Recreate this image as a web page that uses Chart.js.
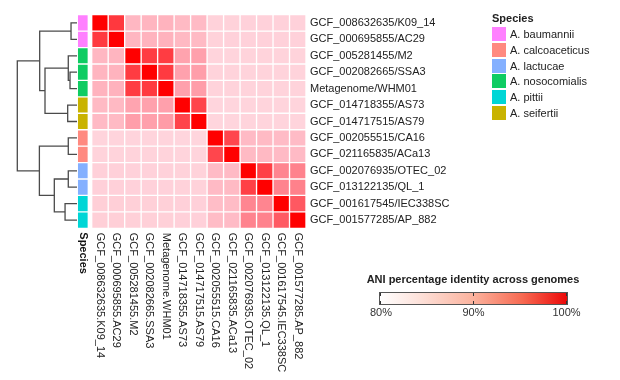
<!DOCTYPE html>
<html>
<head>
<meta charset="utf-8">
<script src="https://cdn.jsdelivr.net/npm/chart.js@4.4.1/dist/chart.umd.min.js"></script>
<style>
  html, body { margin: 0; padding: 0; background: #ffffff; }
  #wrap { position: relative; width: 620px; height: 380px; overflow: hidden;
          font-family: "Liberation Sans", Arial, sans-serif; color: #222; }
  #wrap canvas { position: absolute; left: 0; top: 0; }
  .lgTitle { position: absolute; left: 492px; top: 11px; font-weight: bold; font-size: 11px; line-height: 14px; }
  .lgSw { position: absolute; left: 492px; width: 14px; height: 14px; }
  .lgTx { position: absolute; left: 510px; font-size: 11px; line-height: 14px; color: #222; white-space: nowrap; }
  .cbTitle { position: absolute; left: 340px; width: 266px; text-align: center; top: 272px; font-weight: bold; font-size: 11px; line-height: 14px; }
  .cbBar { position: absolute; left: 379px; top: 292px; width: 187px; height: 11px; border: 1px solid #555;
           background: linear-gradient(to right, #ffffff 0%, #fde3dc 20%, #fbb29d 50%, #f76a52 76%, #ec0808 100%); }
  .cbTick { position: absolute; width: 1px; height: 3px; background: #333; }
  .cbLab { position: absolute; top: 305px; width: 40px; text-align: center; font-size: 11px; line-height: 14px; color: #333; }
</style>
</head>
<body>
<div id="wrap">
  <canvas id="dend" width="620" height="380" style="width:620px;height:380px"></canvas>
  <canvas id="strip" width="620" height="380" style="width:620px;height:380px"></canvas>
  <canvas id="heat" width="620" height="380" style="width:620px;height:380px"></canvas>
  <div id="legend"></div>
  <div id="cbar"></div>
</div>
<script>
// ---------------- DATA ----------------
const rowLabels = [
  "GCF_008632635/K09_14", "GCF_000695855/AC29", "GCF_005281455/M2", "GCF_002082665/SSA3",
  "Metagenome/WHM01", "GCF_014718355/AS73", "GCF_014717515/AS79", "GCF_002055515/CA16",
  "GCF_021165835/ACa13", "GCF_002076935/OTEC_02", "GCF_013122135/QL_1",
  "GCF_001617545/IEC338SC", "GCF_001577285/AP_882"
];
const colLabels = [
  "GCF_008632635.K09_14", "GCF_000695855.AC29", "GCF_005281455.M2", "GCF_002082665.SSA3",
  "Metagenome.WHM01", "GCF_014718355.AS73", "GCF_014717515.AS79", "GCF_002055515.CA16",
  "GCF_021165835.ACa13", "GCF_002076935.OTEC_02", "GCF_013122135.QL_1",
  "GCF_001617545.IEC338SC", "GCF_001577285.AP_882"
];
const rowSpecies = [
  "A. baumannii", "A. baumannii", "A. nosocomialis", "A. nosocomialis", "A. nosocomialis",
  "A. seifertii", "A. seifertii", "A. calcoaceticus", "A. calcoaceticus",
  "A. lactucae", "A. lactucae", "A. pittii", "A. pittii"
];
const speciesNames = ["A. baumannii", "A. calcoaceticus", "A. lactucae", "A. nosocomialis", "A. pittii", "A. seifertii"];
const speciesColors = ["#ff80ff", "#ff8a80", "#84b0ff", "#0fcc62", "#00d6d6", "#c9b300"];

// ANI percentage identity (rows x columns, same order as labels)
const aniValues = [
  [100.0, 97.2, 88.3, 88.5, 88.8, 88.0, 87.9, 85.2, 85.2, 85.3, 85.3, 85.3, 85.3],
  [97.1, 100.0, 88.4, 88.7, 88.9, 88.1, 88.0, 85.2, 85.3, 85.3, 85.3, 85.3, 85.3],
  [88.3, 88.5, 100.0, 97.0, 97.0, 90.4, 90.6, 85.0, 85.0, 85.1, 85.1, 85.1, 85.1],
  [88.5, 88.7, 97.0, 100.0, 97.1, 90.5, 90.7, 85.1, 85.1, 85.1, 85.1, 85.1, 85.1],
  [88.7, 88.9, 97.0, 97.1, 100.0, 90.6, 90.8, 85.1, 85.1, 85.1, 85.1, 85.1, 85.1],
  [88.0, 88.1, 90.3, 90.5, 90.6, 100.0, 96.6, 84.9, 84.9, 85.0, 85.0, 85.0, 85.0],
  [87.9, 88.0, 90.7, 90.6, 90.9, 96.6, 100.0, 84.9, 84.9, 85.0, 85.0, 85.0, 85.0],
  [85.0, 85.0, 85.0, 85.0, 85.0, 84.9, 84.9, 100.0, 96.5, 87.9, 88.0, 87.8, 87.8],
  [85.1, 85.1, 85.1, 85.1, 85.1, 85.0, 85.0, 96.5, 100.0, 88.0, 88.1, 87.9, 87.9],
  [85.4, 85.4, 85.3, 85.3, 85.3, 85.2, 85.2, 87.8, 87.9, 100.0, 96.8, 92.6, 92.8],
  [85.4, 85.4, 85.3, 85.3, 85.3, 85.2, 85.2, 87.9, 88.0, 96.8, 100.0, 92.7, 92.9],
  [85.6, 85.6, 85.5, 85.5, 85.5, 85.4, 85.4, 87.6, 87.7, 92.5, 92.6, 100.0, 95.6],
  [85.6, 85.6, 85.5, 85.5, 85.5, 85.4, 85.4, 87.7, 87.8, 92.7, 92.8, 95.5, 100.0]
];

// Dendrogram merges: [childA, childB, height]; leaves are 0..12, new nodes numbered from 13
const dendroMerges = [
  [0, 1, 0.10],     // 13
  [3, 4, 0.117],    // 14
  [2, 14, 0.146],   // 15
  [5, 6, 0.156],    // 16
  [15, 16, 0.536],  // 17
  [13, 17, 0.625],  // 18
  [7, 8, 0.146],    // 19
  [9, 10, 0.146],   // 20
  [11, 12, 0.20],   // 21
  [20, 21, 0.38],   // 22
  [19, 22, 0.63],   // 23
  [18, 23, 1.0]     // 24
];

const colorbarTicks = ["80%", "90%", "100%"];
const colorbarTitle = "ANI percentage identity across genomes";

// ---------------- STYLE HELPERS ----------------
Chart.defaults.font.family = '"Liberation Sans", Arial, sans-serif';
Chart.defaults.animation = false;

const colorStops = [[80, 255, 255, 255], [85, 255, 212, 220], [90, 255, 168, 180], [95, 255, 100, 110], [100, 255, 0, 0]];
function aniColor(v) {
  for (let k = 1; k < colorStops.length; k++) {
    const a = colorStops[k - 1], b = colorStops[k];
    if (v <= b[0] || k === colorStops.length - 1) {
      const f = Math.max(0, Math.min(1, (v - a[0]) / (b[0] - a[0])));
      const c = [1, 2, 3].map(q => Math.round(a[q] + (b[q] - a[q]) * f));
      return `rgb(${c[0]},${c[1]},${c[2]})`;
    }
  }
}

const TOP = 14.7, BOTTOM_PAD = 380 - 228.3;
const yRows = { type: 'linear', min: -0.5, max: 12.5, reverse: true, display: false };

// ---------------- DENDROGRAM ----------------
const nodeH = [], nodeY = [];
for (let i = 0; i < rowLabels.length; i++) { nodeH.push(0); nodeY.push(i); }
const dendroSets = [];
dendroMerges.forEach(([a, b, h]) => {
  dendroSets.push({
    data: [{ x: nodeH[a], y: nodeY[a] }, { x: h, y: nodeY[a] }, { x: h, y: nodeY[b] }, { x: nodeH[b], y: nodeY[b] }],
    showLine: true, pointRadius: 0, borderColor: '#4b4b4b', borderWidth: 1.3, tension: 0, clip: false
  });
  nodeH.push(h); nodeY.push((nodeY[a] + nodeY[b]) / 2);
});
new Chart(document.getElementById('dend'), {
  type: 'scatter',
  data: { datasets: dendroSets },
  options: {
    responsive: false,
    layout: { padding: { left: 17.3, right: 620 - 77, top: TOP, bottom: BOTTOM_PAD } },
    plugins: { legend: { display: false }, tooltip: { enabled: false } },
    scales: { x: { type: 'linear', min: 0, max: 1, reverse: true, display: false }, y: yRows }
  }
});

// ---------------- SPECIES STRIP ----------------
const stripSets = rowSpecies.map((sp, i) => ({
  data: [[i - 0.5, i + 0.5]],
  backgroundColor: speciesColors[speciesNames.indexOf(sp)],
  borderColor: 'rgba(255,255,255,0.85)', borderWidth: 1, borderSkipped: false,
  grouped: false, barPercentage: 1, categoryPercentage: 1
}));
const stripLabel = {
  id: 'stripLabel',
  afterDraw(chart) {
    const { ctx, chartArea } = chart;
    const x = chart.scales.x.getPixelForValue(0);
    ctx.save();
    ctx.translate(x, chartArea.bottom + 4);
    ctx.rotate(Math.PI / 2);
    ctx.font = 'bold 11px "Liberation Sans", Arial, sans-serif';
    ctx.fillStyle = '#111';
    ctx.textAlign = 'left'; ctx.textBaseline = 'middle';
    ctx.fillText('Species', 0, 0);
    ctx.restore();
  }
};
new Chart(document.getElementById('strip'), {
  type: 'bar',
  data: { labels: ['Species'], datasets: stripSets },
  options: {
    responsive: false,
    layout: { padding: { left: 77.3, right: 620 - 88.3, top: TOP, bottom: BOTTOM_PAD } },
    plugins: { legend: { display: false }, tooltip: { enabled: false } },
    scales: { x: { display: false }, y: yRows }
  },
  plugins: [stripLabel]
});

// ---------------- HEATMAP ----------------
const heatSets = aniValues.map((row, i) => ({
  data: row.map(() => [i - 0.5, i + 0.5]),
  backgroundColor: row.map(aniColor),
  borderColor: 'rgba(255,255,255,0.7)', borderWidth: 1, borderSkipped: false,
  grouped: false, barPercentage: 1, categoryPercentage: 1
}));
const colLabelPlugin = {
  id: 'colLabels',
  afterDraw(chart) {
    const { ctx, chartArea } = chart;
    const xs = chart.scales.x;
    ctx.save();
    ctx.font = '11px "Liberation Sans", Arial, sans-serif';
    ctx.fillStyle = '#222';
    ctx.textAlign = 'left'; ctx.textBaseline = 'middle';
    colLabels.forEach((lab, j) => {
      ctx.save();
      ctx.translate(xs.getPixelForValue(j), chartArea.bottom + 4.5);
      ctx.rotate(Math.PI / 2);
      ctx.fillText(lab, 0, 0);
      ctx.restore();
    });
    ctx.restore();
  }
};
new Chart(document.getElementById('heat'), {
  type: 'bar',
  data: { labels: colLabels, datasets: heatSets },
  options: {
    responsive: false,
    layout: { padding: { left: 91.7, right: 0, top: TOP, bottom: BOTTOM_PAD } },
    plugins: { legend: { display: false }, tooltip: { enabled: false } },
    scales: {
      x: { display: false },
      y: {
        type: 'linear', min: -0.5, max: 12.5, reverse: true, position: 'right',
        grid: { display: false, drawTicks: false }, border: { display: false },
        afterBuildTicks: s => { s.ticks = rowLabels.map((_, i) => ({ value: i })); },
        afterFit: s => { s.width = 620 - 306; },
        ticks: { autoSkip: false, padding: 4, color: '#222', font: { size: 11 }, callback: v => rowLabels[v] }
      }
    }
  },
  plugins: [colLabelPlugin]
});

// ---------------- SPECIES LEGEND (HTML) ----------------
const lg = document.getElementById('legend');
let html = '<div class="lgTitle">Species</div>';
speciesNames.forEach((n, k) => {
  const top = 27 + k * 15.75;
  html += `<div class="lgSw" style="top:${top}px;background:${speciesColors[k]}"></div>`;
  html += `<div class="lgTx" style="top:${top}px">${n}</div>`;
});
lg.innerHTML = html;

// ---------------- COLOR BAR (HTML) ----------------
const cb = document.getElementById('cbar');
let ch = `<div class="cbTitle">${colorbarTitle}</div><div class="cbBar"></div>`;
const tickX = [380, 472.5, 565.5];
colorbarTicks.forEach((t, k) => {
  ch += `<div class="cbTick" style="left:${tickX[k]}px;top:293px"></div>`;
  ch += `<div class="cbTick" style="left:${tickX[k]}px;top:301px"></div>`;
  ch += `<div class="cbLab" style="left:${tickX[k] - 20 + 1}px">${t}</div>`;
});
cb.innerHTML = ch;
</script>
</body>
</html>
